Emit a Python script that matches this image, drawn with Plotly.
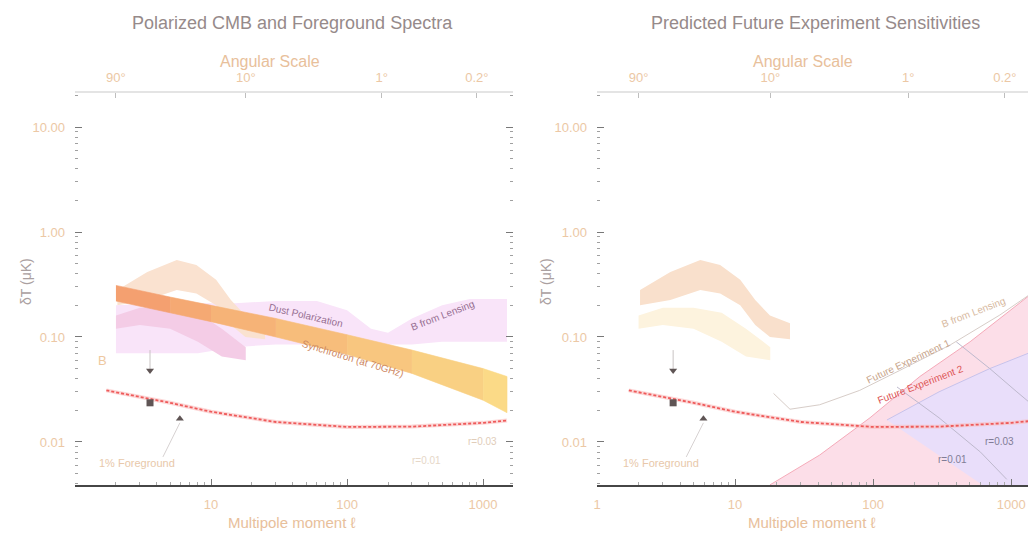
import numpy as np
import plotly.graph_objects as go

# ---------------- data (multipole ell, deltaT in microK) ----------------
ell_sync = [2, 5, 10, 30, 100, 300, 1000, 1500]
sync_hi = [0.31, 0.24, 0.20, 0.15, 0.105, 0.075, 0.050, 0.042]
sync_lo = [0.22, 0.17, 0.14, 0.10, 0.068, 0.045, 0.025, 0.019]

ell_fg = [2, 4, 8, 15, 30, 60, 100, 150, 200, 300, 500, 800, 1500]
fg_hi = [0.20, 0.21, 0.21, 0.21, 0.22, 0.22, 0.18, 0.12, 0.11, 0.15, 0.20, 0.23, 0.23]
fg_lo = [0.07, 0.07, 0.07, 0.08, 0.085, 0.085, 0.085, 0.085, 0.085, 0.085, 0.09, 0.09, 0.09]

ell_bump = [2, 3, 5, 8, 12, 18]
bump_hi = [0.16, 0.19, 0.19, 0.17, 0.12, 0.08]
bump_lo = [0.12, 0.13, 0.12, 0.09, 0.065, 0.06]

ell_e = [2.05, 3.4, 5.6, 7.8, 10.9, 14, 17.9, 25]
e_hi = [0.28, 0.416, 0.54, 0.485, 0.35, 0.225, 0.16, 0.135]
e_lo = [0.20, 0.225, 0.28, 0.26, 0.20, 0.13, 0.10, 0.095]

ell_noise = [1.7, 3, 5, 10, 30, 100, 300, 1000, 1500]
noise = [0.031, 0.027, 0.0236, 0.0194, 0.0155, 0.0139, 0.014, 0.0152, 0.016]

ell_square, val_square = [3.56], [0.0236]
ell_tri_up, val_tri_up = [5.9], [0.0166]
ell_tri_dn, val_tri_dn = [3.56], [0.048]
ell_limit, val_limit = [3.56, 3.56], [0.048, 0.075]
ell_pointer, val_pointer = [5.9, 4.43], [0.0152, 0.0072]

ell_exp1 = [19, 25, 41, 80, 156, 362, 829, 1520]
exp1 = [0.029, 0.0205, 0.0226, 0.031, 0.048, 0.084, 0.162, 0.28]

ell_exp2 = [17.9, 41, 95, 218, 504, 1520]
exp2 = [0.0039, 0.0075, 0.017, 0.042, 0.09, 0.28]

ell_lav = [126, 300, 700, 1520, 1520, 828]
lav = [0.0162, 0.03, 0.05, 0.075, 0.003, 0.003]

ell_r03 = [400, 700, 1100, 1520]
r03 = [0.09, 0.05, 0.03, 0.021]
ell_r01 = [149, 300, 600, 930]
r01 = [0.0334, 0.017, 0.008, 0.0044]

y_floor = 0.003

top_ell = [2, 18, 180, 900]
top_text = ["90°", "10°", "1°", "0.2°"]

# ---------------- figure geometry ----------------
W, H = 1036, 534
OFF = 8  # the page body adds an 8px margin; positions below are screen pixels

def px(sx):
    return (sx - OFF) / W

def py(sy):
    return 1 - (sy - OFF) / H

fig = go.Figure()

def band(xa, ya, ell, hi, lo, color):
    fig.add_trace(go.Scatter(
        x=list(ell) + list(ell)[::-1], y=list(hi) + list(lo)[::-1],
        fill="toself", fillcolor=color, line=dict(width=0), mode="lines",
        xaxis=xa, yaxis=ya, hoverinfo="skip", showlegend=False))

def line(xa, ya, ell, val, color, width=1, dash="solid"):
    fig.add_trace(go.Scatter(x=ell, y=val, mode="lines",
                             line=dict(color=color, width=width, dash=dash),
                             xaxis=xa, yaxis=ya, hoverinfo="skip", showlegend=False))

def markers(xa, ya):
    line(xa, ya, ell_limit, val_limit, "rgb(200,195,195)", 1)
    line(xa, ya, ell_pointer, val_pointer, "rgb(215,210,210)", 1)
    for ex, vy, sym in [(ell_square, val_square, "square"),
                        (ell_tri_up, val_tri_up, "triangle-up"),
                        (ell_tri_dn, val_tri_dn, "triangle-down")]:
        fig.add_trace(go.Scatter(x=ex, y=vy, mode="markers",
                                 marker=dict(symbol=sym, size=7, color="rgb(95,85,85)"),
                                 xaxis=xa, yaxis=ya, hoverinfo="skip", showlegend=False))

def noise_curve(xa, ya):
    line(xa, ya, ell_noise, noise, "rgba(250,190,190,0.6)", 4)
    line(xa, ya, ell_noise, noise, "rgb(238,90,90)", 1.8, "3px,2px")

# ---- left panel ----
band("x", "y", ell_fg, fg_hi, fg_lo, "rgb(249,228,249)")
band("x", "y", ell_e, e_hi, e_lo, "rgb(250,226,208)")
band("x", "y", ell_bump, bump_hi, bump_lo, "rgb(244,204,230)")
# synchrotron band with orange -> yellow gradient
c0 = np.array([244, 160, 112])
c1 = np.array([251, 218, 135])
n = len(ell_sync)
for i in range(n - 1):
    t = i / (n - 2)
    c = (1 - t) * c0 + t * c1
    col = "rgb(%d,%d,%d)" % tuple(c.astype(int))
    fig.add_trace(go.Scatter(
        x=ell_sync[i:i + 2] + ell_sync[i:i + 2][::-1],
        y=sync_hi[i:i + 2] + sync_lo[i:i + 2][::-1],
        fill="toself", fillcolor=col, line=dict(width=0.6, color=col), mode="lines",
        xaxis="x", yaxis="y", hoverinfo="skip", showlegend=False))
noise_curve("x", "y")
markers("x", "y")

# ---- right panel ----
band("x3", "y2", ell_e, e_hi, e_lo, "rgb(249,224,204)")
band("x3", "y2", ell_bump, bump_hi, bump_lo, "rgb(253,243,222)")
fig.add_trace(go.Scatter(
    x=ell_exp2 + [ell_exp2[-1], ell_exp2[0]], y=exp2 + [y_floor, y_floor],
    fill="toself", fillcolor="rgb(252,222,232)", line=dict(color="rgb(245,170,185)", width=1),
    mode="lines", xaxis="x3", yaxis="y2", hoverinfo="skip", showlegend=False))
fig.add_trace(go.Scatter(
    x=ell_lav, y=lav, fill="toself", fillcolor="rgb(233,222,250)",
    line=dict(color="rgb(200,195,235)", width=1),
    mode="lines", xaxis="x3", yaxis="y2", hoverinfo="skip", showlegend=False))
line("x3", "y2", ell_r03, r03, "rgb(190,185,205)", 1)
line("x3", "y2", ell_r01, r01, "rgb(190,185,205)", 1)
line("x3", "y2", ell_exp1, exp1, "rgb(215,205,200)", 1)
noise_curve("x3", "y2")
markers("x3", "y2")

# ---------------- axes ----------------
XL = [px(75), px(513)]
XR = [px(597), px(1036)]
YD = [py(485), py(93)]
xr_left = [0, 3.22]
xr_right = [0, 3.18]
yr = [-2.41, 1.324]

FONT = "Liberation Sans, Arial"
tickfont = dict(family=FONT, size=13, color="rgb(236,200,165)")
minor_x = [v * 10 ** k for k in range(0, 4) for v in range(2, 10)]
minor_y = [v * 10.0 ** k for k in range(-3, 2) for v in range(2, 10)]

def xbottom(domain, rng, anchor, labels):
    tv = [1, 10, 100, 1000] if labels == 4 else [10, 100, 1000]
    return dict(type="log", domain=domain, range=rng, anchor=anchor, automargin=False,
                tickvals=tv, ticktext=[str(v) for v in tv],
                ticks="inside", ticklen=6, tickcolor="rgb(120,120,120)",
                minor=dict(tickvals=minor_x, ticks="inside", ticklen=3, tickcolor="rgb(170,170,170)"),
                showline=True, linecolor="rgb(70,70,70)", linewidth=1.5,
                showgrid=False, zeroline=False, tickfont=tickfont, ticklabelstandoff=7)

def xtop(domain, rng, anchor, overlay):
    return dict(type="log", domain=domain, range=rng, anchor=anchor, overlaying=overlay,
                side="top", tickvals=top_ell, ticktext=top_text, automargin=False,
                ticks="inside", ticklen=5, tickcolor="rgb(190,190,190)",
                showline=True, linecolor="rgb(228,228,228)", linewidth=1.5,
                showgrid=False, zeroline=False, tickfont=tickfont, ticklabelstandoff=4)

def yax(anchor):
    return dict(type="log", domain=YD, range=yr, anchor=anchor, automargin=False,
                tickvals=[0.01, 0.1, 1, 10], ticktext=["0.01", "0.10", "1.00", "10.00"],
                ticks="inside", ticklen=7, tickcolor="rgb(120,120,120)",
                minor=dict(tickvals=minor_y, ticks="inside", ticklen=3, tickcolor="rgb(160,160,160)"),
                mirror="ticks", showline=False, showgrid=False, zeroline=False,
                tickfont=tickfont, ticklabelstandoff=9)

fig.update_layout(
    template="none",
    width=W, height=H, margin=dict(l=0, r=0, t=0, b=0, autoexpand=False),
    paper_bgcolor="white", plot_bgcolor="rgba(0,0,0,0)",
    xaxis=xbottom(XL, xr_left, "y", 3),
    xaxis2=xtop(XL, xr_left, "y", "x"),
    xaxis3=xbottom(XR, xr_right, "y2", 4),
    xaxis4=xtop(XR, xr_right, "y2", "x3"),
    yaxis=yax("x"),
    yaxis2=yax("x3"),
    showlegend=False,
)
# invisible traces so the top axes are drawn
fig.add_trace(go.Scatter(x=[10], y=[1], xaxis="x2", yaxis="y", mode="markers",
                         marker=dict(opacity=0), hoverinfo="skip", showlegend=False))
fig.add_trace(go.Scatter(x=[10], y=[1], xaxis="x4", yaxis="y2", mode="markers",
                         marker=dict(opacity=0), hoverinfo="skip", showlegend=False))

# ---------------- text ----------------
ann = []
def pt(text, x, y, size, color, angle=0):
    ann.append(dict(text=text, x=px(x), y=py(y), xref="paper", yref="paper",
                    showarrow=False, textangle=angle, xanchor="center", yanchor="middle",
                    font=dict(family=FONT, size=size, color=color)))

def dt(text, xa, ya, ell, val, size, color, angle=0):
    ann.append(dict(text=text, x=np.log10(ell), y=np.log10(val), xref=xa, yref=ya,
                    showarrow=False, textangle=angle, xanchor="center", yanchor="middle",
                    font=dict(family=FONT, size=size, color=color)))

title_c = "rgb(150,138,138)"
axis_c = "rgb(232,192,155)"
pt("Polarized CMB and Foreground Spectra", 292, 23, 18, title_c)
pt("Predicted Future Experiment Sensitivities", 815, 23, 18, title_c)
pt("Angular Scale", 270, 61, 16, axis_c)
pt("Angular Scale", 803, 61, 16, axis_c)
pt("Multipole moment ℓ", 292, 522, 15, axis_c)
pt("Multipole moment ℓ", 812, 522, 15, axis_c)
pt("δT (μK)", 26, 282, 14, "rgb(170,160,160)", -90)
pt("δT (μK)", 546, 282, 14, "rgb(170,160,160)", -90)

dt("Dust Polarization", "x", "y", 50, 0.16, 10, "rgb(150,110,145)", 13)
dt("B from Lensing", "x", "y", 500, 0.16, 10, "rgb(150,110,145)", -21)
dt("Synchrotron (at 70GHz)", "x", "y", 110, 0.062, 10, "rgb(205,135,95)", 17)
dt("B", "x", "y", 1.58, 0.06, 13, "rgb(238,200,160)")
dt("1% Foreground", "x", "y", 2.85, 0.0063, 11, "rgb(232,200,170)")
dt("1% Foreground", "x3", "y2", 2.9, 0.0063, 11, "rgb(232,200,170)")
dt("r=0.03", "x", "y", 984, 0.0102, 10, "rgb(225,205,185)")
dt("r=0.01", "x", "y", 385, 0.0067, 10, "rgb(230,215,200)")
dt("r=0.03", "x3", "y2", 828, 0.0102, 10, "rgb(130,125,150)")
dt("r=0.01", "x3", "y2", 375, 0.0068, 10, "rgb(130,125,150)")
dt("B from Lensing", "x3", "y2", 530, 0.17, 10, "rgb(215,185,160)", -21)
dt("Future Experiment 1", "x3", "y2", 179, 0.058, 10, "rgb(200,165,140)", -25)
dt("Future Experiment 2", "x3", "y2", 219, 0.035, 10, "rgb(220,85,85)", -21)

fig.update_layout(annotations=ann)
fig.write_html("out.html")
